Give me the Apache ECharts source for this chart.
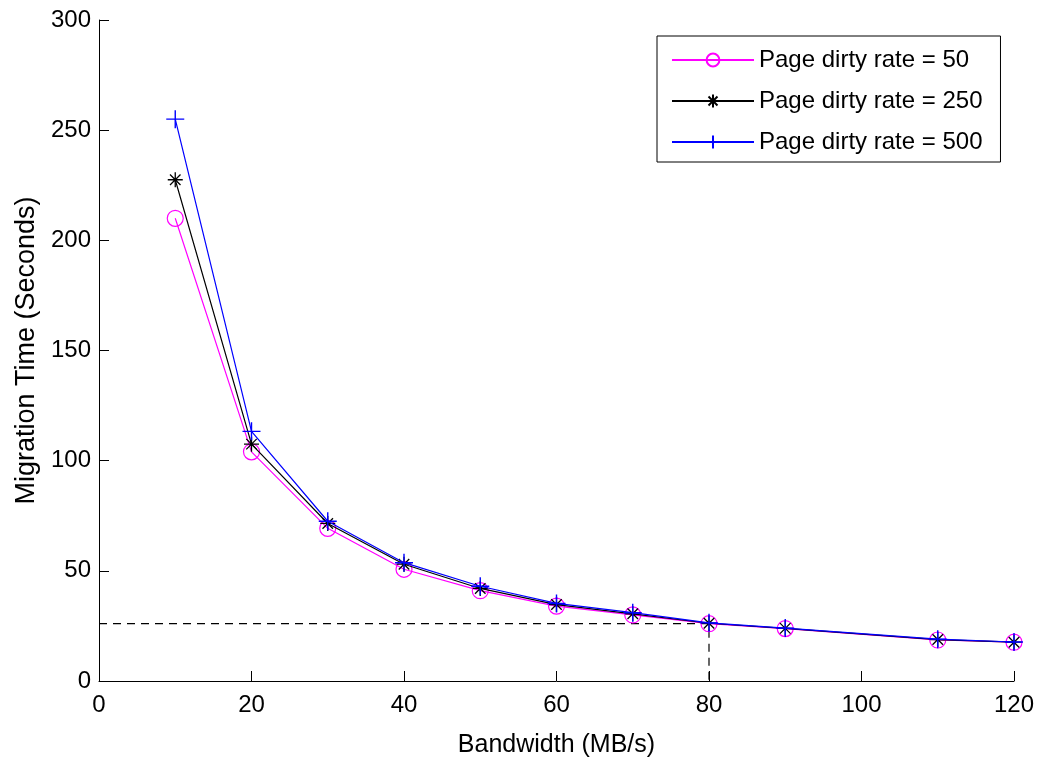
<!DOCTYPE html>
<html>
<head>
<meta charset="utf-8">
<script src="https://cdn.jsdelivr.net/npm/echarts@6/dist/echarts.min.js"></script>
<style>
  html, body { margin: 0; padding: 0; background: #fff; }
  #chart { width: 1038px; height: 757px; }
</style>
</head>
<body>
<div id="chart"></div>
<script>
// bandwidth in MB/s
var bandwidth = [10, 20, 30, 40, 50, 60, 70, 80, 90, 110, 120]
// migration time (seconds) per page dirty rate
var rate50 = [210, 104, 69.3, 50.7, 41, 34, 30, 26, 23.8, 18.6, 17.6]
var rate250 = [227.5, 107.5, 71.5, 53, 42, 34.7, 30.5, 26.2, 23.9, 18.8, 17.6]
var rate500 = [255, 113.3, 72.5, 53.7, 43, 35.2, 31, 26.4, 24, 19, 17.7]
var seriesNames = ['Page dirty rate = 50', 'Page dirty rate = 250', 'Page dirty rate = 500']
// dashed guide: 80 MB/s -> ~26 s
var guideX = [0, 80, 80]
var guideY = [26, 26, 0]

var font = '"Liberation Sans", Arial, sans-serif'
var plusPath = 'path://M5,0 L5,10 M0,5 L10,5'
var starPath = 'path://M5,0 L5,10 M0,5 L10,5 M1.5,1.5 L8.5,8.5 M8.5,1.5 L1.5,8.5'

function pairs (xs, ys) {
  return xs.map(function (x, i) { return [x, ys[i]] })
}

var chart = echarts.init(document.getElementById('chart'))
chart.setOption({
  animation: false,
  backgroundColor: '#fff',
  grid: { left: 99, right: 24, top: 20, bottom: 76, outerBoundsMode: 'none', containLabel: false },
  legend: {
    data: seriesNames,
    orient: 'vertical',
    left: 657,
    top: 36,
    padding: [12, 18, 8, 14],
    itemWidth: 82,
    itemHeight: 16,
    itemGap: 17,
    borderColor: '#000',
    borderWidth: 1,
    backgroundColor: '#fff',
    textStyle: { fontSize: 24, fontFamily: font, color: '#000' }
  },
  xAxis: {
    type: 'value',
    min: 0,
    max: 120,
    interval: 20,
    name: 'Bandwidth (MB/s)',
    nameLocation: 'middle',
    nameGap: 52,
    nameTextStyle: { fontSize: 25, fontFamily: font, color: '#000' },
    axisLine: { lineStyle: { color: '#000', width: 1 } },
    axisTick: { inside: true, length: 10, lineStyle: { color: '#000' } },
    axisLabel: { fontSize: 24, fontFamily: font, color: '#000', margin: 12 },
    splitLine: { show: false }
  },
  yAxis: {
    type: 'value',
    min: 0,
    max: 300,
    interval: 50,
    name: 'Migration Time (Seconds)',
    nameLocation: 'middle',
    nameGap: 54,
    nameTextStyle: { fontSize: 27, fontFamily: font, color: '#000' },
    axisLine: { show: true, lineStyle: { color: '#000', width: 1 } },
    axisTick: { show: true, inside: true, length: 10, lineStyle: { color: '#000' } },
    axisLabel: { fontSize: 24, fontFamily: font, color: '#000', margin: 8 },
    splitLine: { show: false }
  },
  series: [
    {
      name: 'guide',
      type: 'line',
      data: pairs(guideX, guideY),
      symbol: 'none',
      lineStyle: { color: '#000', width: 1.2, type: [8, 6] },
      silent: true,
      z: 1
    },
    {
      name: seriesNames[0],
      type: 'line',
      data: pairs(bandwidth, rate50),
      symbol: 'circle',
      symbolSize: 16,
      itemStyle: { color: 'rgba(0,0,0,0)', borderColor: '#ff00ff', borderWidth: 1.2 },
      lineStyle: { color: '#ff00ff', width: 1.2 },
      z: 2
    },
    {
      name: seriesNames[1],
      type: 'line',
      data: pairs(bandwidth, rate250),
      symbol: starPath,
      symbolSize: 15,
      itemStyle: { color: 'rgba(0,0,0,0)', borderColor: '#000', borderWidth: 1.3 },
      lineStyle: { color: '#000', width: 1.2 },
      z: 3
    },
    {
      name: seriesNames[2],
      type: 'line',
      data: pairs(bandwidth, rate500),
      symbol: plusPath,
      symbolSize: 18,
      itemStyle: { color: 'rgba(0,0,0,0)', borderColor: '#0000ff', borderWidth: 1.4 },
      lineStyle: { color: '#0000ff', width: 1.2 },
      z: 4
    }
  ]
})
</script>
</body>
</html>
